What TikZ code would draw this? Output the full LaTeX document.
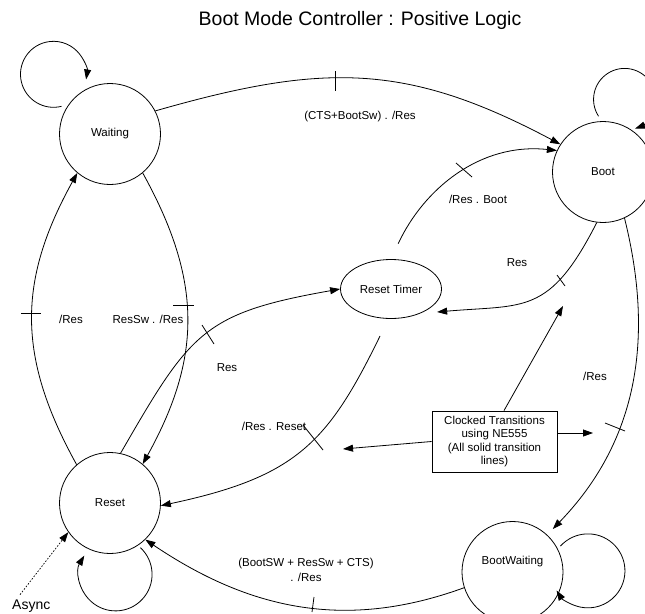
\documentclass[tikz,border=0pt]{standalone}
\usepackage{fontspec}
\setmainfont{Liberation Sans}
\usetikzlibrary{arrows.meta,shapes.geometric}
\begin{document}
\begin{tikzpicture}[x=1pt,y=-1pt,
  every node/.style={font=\fontsize{11.5}{13.3}\selectfont},
  state/.style={draw,circle,minimum size=101pt,inner sep=0pt,line width=0.8pt},
  trans/.style={draw,line width=0.8pt,-{Triangle[length=10pt,width=7pt]}},
  tickmark/.style={draw,line width=0.8pt},
  asyncline/.style={draw,line width=0.7pt,dash pattern=on 1.6pt off 1.6pt,-{Triangle[length=10pt,width=7pt]}}]
\useasboundingbox (0,0) rectangle (645,613);
% title
\node[font=\fontsize{19.5}{23}\selectfont] (title) at (360,20) {Boot Mode Controller : Positive Logic};
% states
\node[state] (waiting) at (110,134) {Waiting};
\node[state] (boot) at (603,172) {Boot};
\node[state] (reset) at (110,503) {Reset};
\node[state,text height=8pt,text depth=22.5pt] (bw) at (512.5,572) {BootWaiting};
\node[draw,ellipse,minimum width=101pt,minimum height=59pt,inner sep=0pt,line width=0.8pt] (rtimer) at (391,289) {Reset Timer};
\node[draw,rectangle,minimum width=125pt,minimum height=61pt,align=center,line width=0.8pt] (box) at (494.5,441.5) {Clocked Transitions\\using NE555\\(All solid transition\\lines)};
\node[font=\fontsize{14}{16}\selectfont,anchor=base west,inner sep=0pt] (async) at (12,609) {Async};
% transitions
\draw[trans] (waiting.27) to[out=16,in=152,looseness=1.1] (boot.147);
\draw[trans,shorten <=17pt] (rtimer.90) to[out=65,in=174] (boot.155);
\draw[trans,shorten >=17pt] (boot.263) to[out=243,in=5,looseness=1.35] (rtimer.-40);
\draw[trans,shorten >=8pt] (boot.-65) to[out=-76,in=46] (bw.47);
\draw[trans] (bw.198) to[out=200,in=-34] (reset.-46);
\draw[trans] (reset.131) to[out=119,in=241,looseness=1.08] (waiting.230);
\draw[trans] (waiting.-50) to[out=-61,in=61,looseness=1.08] (reset.50);
\draw[trans] (reset.78) to[out=60,in=190,looseness=1.3] (rtimer.west);
\draw[trans,shorten <=19pt] (rtimer.-95) to[out=-116,in=12,looseness=1.2] (reset.-3);
% self loops
\draw[trans] ([shift={(-4pt,3pt)}]waiting.151) arc[start angle=76,end angle=369,radius=33];
\draw[trans] ([yshift=5pt]boot.95) arc[start angle=147,end angle=430,radius=31];
\draw[trans] ([shift={(2pt,-2.5pt)}]reset.-56) arc[start angle=-47,end angle=211,radius=36.5];
\draw[trans] ([shift={(3pt,2pt)}]bw.28) arc[start angle=222,end angle=508,radius=37];
% note arrows
\coordinate (boxL) at (343,449);
\coordinate (boxU) at (563,306);
\coordinate (boxR) at (593,433);
\draw[trans] (box.west) -- (boxL);
\draw[trans] ([xshift=9.5pt]box.north) -- (boxU);
\draw[trans] ([yshift=8.5pt]box.east) -- (boxR);
% async
\draw[asyncline] ([shift={(8pt,4.5pt)}]async.north west) -- (reset.-145);
% ticks
\draw[tickmark] (335,71) -- (335,91);
\draw[tickmark] (456,163) -- (472,177);
\draw[tickmark] (557,275) -- (565,286);
\draw[tickmark] (605,423) -- (625,431);
\draw[tickmark] (314,597) -- (312,612);
\draw[tickmark] (21,313) -- (41,313);
\draw[tickmark] (173,305) -- (194,305);
\draw[tickmark] (202,325) -- (214,344);
\draw[tickmark] (303,425) -- (323,450);
% labels
\node (l1) at (360,117) {(CTS+BootSw) . /Res};
\node (l2) at (478,199) {/Res . Boot};
\node (l3) at (517,263) {Res};
\node (l4) at (595,376) {/Res};
\node[align=center,font=\fontsize{11.5}{15}\selectfont] (l5) at (306,570) {(BootSW + ResSw + CTS)\\. /Res};
\node (l6) at (71,319) {/Res};
\node (l7) at (148,319) {ResSw . /Res};
\node (l8) at (227,368) {Res};
\node (l9) at (274,426) {/Res . Reset};
\end{tikzpicture}
\end{document}
